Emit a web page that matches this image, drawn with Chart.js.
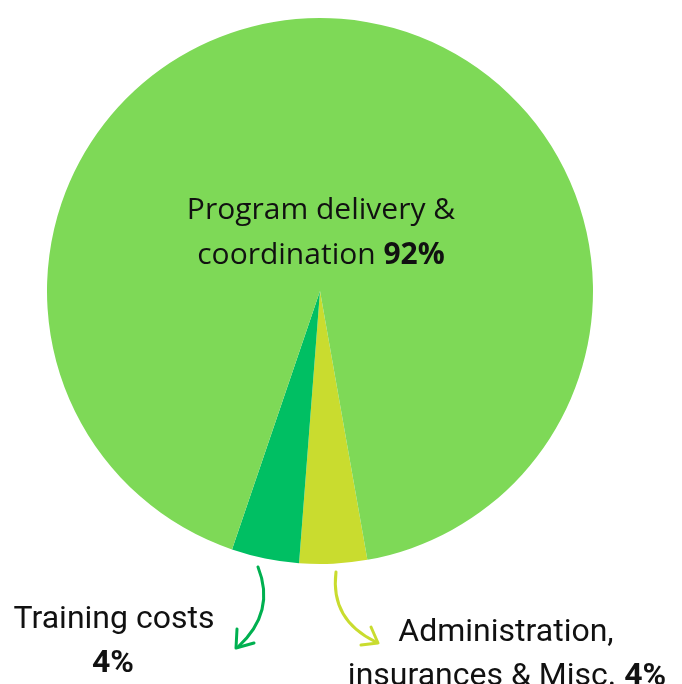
<!DOCTYPE html>
<html>
<head>
<meta charset="utf-8">
<script src="https://cdn.jsdelivr.net/npm/chart.js@4"></script>
<style>
html,body{margin:0;padding:0;background:#fff;}
#wrap{width:682px;height:684px;position:relative;}
</style>
</head>
<body>
<div id="wrap"><canvas id="c" width="682" height="684"></canvas></div>
<script>
const categories = ['Administration, insurances & Misc.', 'Training costs', 'Program delivery & coordination'];
const values = [4, 4, 92];
const sliceColors = ['#C9DC2F', '#00BF63', '#7ED957'];

const annot = {
  id: 'annot',
  afterDraw(chart) {
    const ctx = chart.ctx;
    const arc = chart.getDatasetMeta(0).data[0];
    const cx = arc.x, cy = arc.y;
    ctx.save();
    ctx.fillStyle = '#111';
    ctx.textBaseline = 'alphabetic';
    function mixed(parts, x, y, size, fam) {
      let w = 0;
      parts.forEach(p => { ctx.font = (p[1] ? 'bold ' : '') + size + 'px ' + fam; w += ctx.measureText(p[0]).width; });
      let sx = x - w / 2;
      ctx.textAlign = 'left';
      parts.forEach(p => { ctx.font = (p[1] ? 'bold ' : '') + size + 'px ' + fam; ctx.fillText(p[0], sx, y); sx += ctx.measureText(p[0]).width; });
    }
    const FC = '"Open Sans", sans-serif';
    const FB = '"Roboto", sans-serif';
    mixed([['Program delivery &', false]], cx + 1, cy - 72, 30, FC);
    mixed([['coordination ', false], ['92%', true]], cx + 1, cy - 27, 30, FC);
    mixed([['Training costs', false]], 114, 628, 32, FB);
    mixed([['4%', true]], 113, 672, 32, FB);
    mixed([['Administration,', false]], 506, 641, 32, FB);
    mixed([['insurances & Misc. ', false], ['4%', true]], 507, 685, 32, FB);

    ctx.lineWidth = 3;
    ctx.lineCap = 'round';
    ctx.lineJoin = 'round';
    ctx.strokeStyle = '#00B050';
    ctx.beginPath();
    ctx.moveTo(258, 567);
    ctx.quadraticCurveTo(276, 612, 238, 647);
    ctx.stroke();
    ctx.beginPath();
    ctx.moveTo(237, 629);
    ctx.lineTo(236, 648);
    ctx.lineTo(254, 643);
    ctx.stroke();
    ctx.strokeStyle = '#C9DC2F';
    ctx.beginPath();
    ctx.moveTo(336, 572);
    ctx.quadraticCurveTo(330, 620, 376, 642);
    ctx.stroke();
    ctx.beginPath();
    ctx.moveTo(371, 627);
    ctx.lineTo(378, 643);
    ctx.lineTo(361, 645);
    ctx.stroke();
    ctx.restore();
  }
};

new Chart(document.getElementById('c'), {
  type: 'pie',
  data: {
    labels: categories,
    datasets: [{ data: values, backgroundColor: sliceColors, borderWidth: 0 }]
  },
  options: {
    responsive: false,
    animation: false,
    rotation: 170,
    layout: { padding: { left: 47, right: 89, top: 18, bottom: 120 } },
    plugins: { legend: { display: false }, tooltip: { enabled: false } }
  },
  plugins: [annot]
});
</script>
</body>
</html>
